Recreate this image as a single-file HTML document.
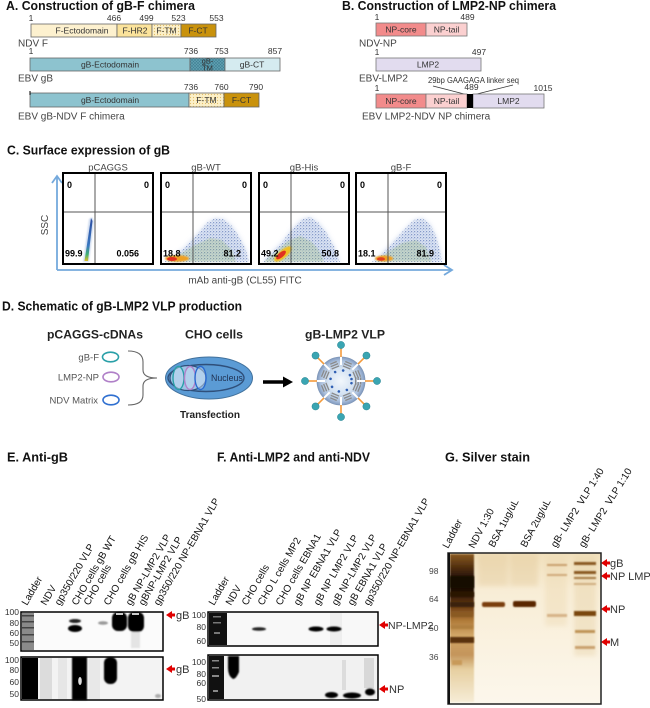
<!DOCTYPE html>
<html><head><meta charset="utf-8">
<style>
html,body{margin:0;padding:0;background:#fff;}
svg{display:block;}
text{font-family:"Liberation Sans",Arial,sans-serif;}
</style></head><body>
<svg width="650" height="708" viewBox="0 0 650 708" xmlns="http://www.w3.org/2000/svg">
<defs>
 <pattern id="ftm" width="3" height="3" patternUnits="userSpaceOnUse"><rect width="3" height="3" fill="#fcf0c8"/><circle cx="1.5" cy="1.5" r=".6" fill="#e2bd68"/></pattern>
 <pattern id="gtm" width="3" height="3" patternUnits="userSpaceOnUse"><rect width="3" height="3" fill="#62a2b3"/><path d="M0,0L3,3M3,0L0,3" stroke="#3f7f93" stroke-width=".6"/></pattern>
 <pattern id="dots" width="3" height="3" patternUnits="userSpaceOnUse"><circle cx=".7" cy=".7" r=".55" fill="#2a4c9c"/><circle cx="2.2" cy="1.9" r=".45" fill="#5a82c4"/></pattern>
 <pattern id="gdots" width="2.2" height="2.2" patternUnits="userSpaceOnUse"><circle cx=".6" cy=".6" r=".55" fill="#3c9a50"/><circle cx="1.6" cy="1.6" r=".45" fill="#b8c028"/></pattern>
 <linearGradient id="streak" x1="0" y1="1" x2="0" y2="0">
  <stop offset="0" stop-color="#e0c020"/><stop offset=".15" stop-color="#40b070"/><stop offset=".35" stop-color="#3a78c0"/><stop offset="1" stop-color="#2a4ca0"/>
 </linearGradient>
 <radialGradient id="sph" cx=".5" cy=".5" r=".5">
  <stop offset="0" stop-color="#f2f7fc"/><stop offset=".55" stop-color="#d4e2f2"/><stop offset=".85" stop-color="#a9bedb"/><stop offset="1" stop-color="#8099bf"/>
 </radialGradient>
 <linearGradient id="gelbg" x1="0" y1="0" x2="0" y2="1">
  <stop offset="0" stop-color="#f1e0bc"/><stop offset=".25" stop-color="#f8edd6"/><stop offset="1" stop-color="#fcf7ec"/>
 </linearGradient>
 <linearGradient id="ladG" x1="0" y1="0" x2="0" y2="1">
  <stop offset="0" stop-color="#8a5a22"/><stop offset=".1" stop-color="#4a2a0c"/><stop offset=".18" stop-color="#1a0c02"/><stop offset=".24" stop-color="#1a0c02"/><stop offset=".35" stop-color="#6a3a12"/><stop offset=".45" stop-color="#b07a38"/><stop offset=".55" stop-color="#d2a868"/><stop offset=".68" stop-color="#c4945a"/><stop offset=".78" stop-color="#e6cfa0"/><stop offset="1" stop-color="#f6ecd6"/>
 </linearGradient>
 <filter id="b1" x="-20%" y="-50%" width="140%" height="200%"><feGaussianBlur stdDeviation="0.7"/></filter>
 <filter id="b2" x="-30%" y="-50%" width="160%" height="200%"><feGaussianBlur stdDeviation="1.5"/></filter>
 <filter id="b3" x="-30%" y="-30%" width="160%" height="160%"><feGaussianBlur stdDeviation="2.5"/></filter>
</defs>

<!-- ============ PANEL A ============ -->
<text x="6" y="10" font-size="12.5" font-weight="bold" fill="#111" textLength="189" lengthAdjust="spacingAndGlyphs">A. Construction of gB-F chimera</text>
<g font-size="8.5" fill="#333" text-anchor="middle">
 <text x="31" y="21">1</text><text x="114" y="21">466</text><text x="146.5" y="21">499</text><text x="178.5" y="21">523</text><text x="216.5" y="21">553</text>
 <text x="31" y="54">1</text><text x="191" y="54">736</text><text x="221.5" y="54">753</text><text x="275" y="54">857</text>
 <text x="191" y="90">736</text><text x="221.5" y="90">760</text><text x="256" y="90">790</text>
</g>
<g stroke="#666" stroke-width=".8">
 <rect x="31" y="24" width="86" height="13" fill="#fdf1cf"/>
 <rect x="117" y="24" width="35" height="13" fill="#fbe39b"/>
 <rect x="152" y="24" width="29" height="13" fill="url(#ftm)"/>
 <rect x="181" y="24" width="35" height="13" fill="#c9920c"/>
 <rect x="30" y="58" width="160" height="13" fill="#8dc3cf"/>
 <rect x="190" y="58" width="35" height="13" fill="url(#gtm)"/>
 <rect x="225" y="58" width="55" height="13" fill="#d5ebf0"/>
 <rect x="30" y="93" width="159" height="14" fill="#8dc3cf"/>
 <rect x="189" y="93" width="35" height="14" fill="url(#ftm)"/>
 <rect x="224" y="93" width="35" height="14" fill="#c9920c"/>
</g>
<line x1="30" y1="91" x2="30" y2="95" stroke="#000" stroke-width="1"/>
<g font-size="8.5" fill="#333" text-anchor="middle">
 <text x="82" y="33.5">F-Ectodomain</text><text x="135" y="33.5">F-HR2</text><text x="166.5" y="33.5">F-TM</text><text x="198" y="33.5">F-CT</text>
 <text x="110" y="67.5">gB-Ectodomain</text><text x="252" y="67.5">gB-CT</text>
 <text x="207.5" y="63.5" font-size="7.5">gB-</text><text x="207.5" y="70.5" font-size="7.5">TM</text>
 <text x="110" y="103">gB-Ectodomain</text><text x="206.5" y="103">F-TM</text><text x="241.5" y="103">F-CT</text>
</g>
<g font-size="10" fill="#444">
 <text x="18" y="46.5">NDV F</text>
 <text x="18" y="81.5">EBV gB</text>
 <text x="18" y="119.5">EBV gB-NDV F chimera</text>
</g>

<!-- ============ PANEL B ============ -->
<text x="342" y="10" font-size="12.5" font-weight="bold" fill="#111" textLength="214" lengthAdjust="spacingAndGlyphs">B. Construction of LMP2-NP chimera</text>
<g font-size="8.5" fill="#333" text-anchor="middle">
 <text x="377" y="20">1</text><text x="467.5" y="20">489</text>
 <text x="377" y="55">1</text><text x="479" y="55">497</text>
 <text x="377" y="91">1</text><text x="471.5" y="90">489</text><text x="543" y="91">1015</text>
</g>
<text x="428" y="83" font-size="8.5" fill="#333" textLength="91" lengthAdjust="spacingAndGlyphs">29bp GAAGAGA linker seq</text>
<line x1="433" y1="86" x2="468" y2="95" stroke="#333" stroke-width=".8"/>
<line x1="513" y1="85" x2="473" y2="95" stroke="#333" stroke-width=".8"/>
<g stroke="#777" stroke-width=".8">
 <rect x="376" y="23" width="50" height="13" fill="#f28b8b"/>
 <rect x="426" y="23" width="41" height="13" fill="#fbd0d0"/>
 <rect x="376" y="58" width="105" height="13" fill="#e2dcef"/>
 <rect x="376" y="94" width="50" height="14" fill="#f28b8b"/>
 <rect x="426" y="94" width="41" height="14" fill="#fbd0d0"/>
 <rect x="473" y="94" width="71" height="14" fill="#e2dcef"/>
</g>
<rect x="467" y="94" width="6" height="14" fill="#000"/>
<g font-size="8.5" fill="#333" text-anchor="middle">
 <text x="401" y="32.5">NP-core</text><text x="446.5" y="32.5">NP-tail</text>
 <text x="428" y="67.5">LMP2</text>
 <text x="401" y="104">NP-core</text><text x="446.5" y="104">NP-tail</text><text x="508.5" y="104">LMP2</text>
</g>
<g font-size="10" fill="#444">
 <text x="359" y="46.5">NDV-NP</text>
 <text x="359" y="81.5">EBV-LMP2</text>
 <text x="362" y="119.5">EBV LMP2-NDV NP chimera</text>
</g>

<!-- ============ PANEL C ============ -->
<text x="7" y="154.5" font-size="13" font-weight="bold" fill="#111" textLength="163" lengthAdjust="spacingAndGlyphs">C. Surface expression of gB</text>
<g font-size="9.5" fill="#444" text-anchor="middle">
 <text x="108" y="170.5">pCAGGS</text><text x="206" y="170.5">gB-WT</text><text x="304" y="170.5">gB-His</text><text x="401" y="170.5">gB-F</text>
</g>
<g stroke="#74a9dc" stroke-width="1.8" fill="none">
 <line x1="57" y1="177" x2="57" y2="270"/>
 <line x1="57" y1="270" x2="452" y2="270"/>
 <polyline points="52,183 57,176 62,183"/>
 <polyline points="444,265 452,270 444,275"/>
</g>
<text transform="translate(48,225) rotate(-90)" font-size="10" fill="#444" text-anchor="middle">SSC</text>
<text x="245" y="283.5" font-size="10" fill="#444" text-anchor="middle">mAb anti-gB (CL55) FITC</text>

<g>
 <polygon points="83,262 89,262 94,221 92,217 89,219" fill="#9fb8e0" opacity=".5" filter="url(#b1)"/>
 <polygon points="84.5,261 88,261 92.5,221 91,218" fill="url(#streak)"/>

 <polygon points="164,262 172,257 185,247 198,233 208,222 215,218 224,219 232,226 240,238 246,250 249,262" fill="#b4c4e6" opacity=".5" filter="url(#b3)"/>
 <polygon points="164,262 172,257 185,247 198,233 208,222 215,218 224,219 232,226 240,238 246,250 249,262" fill="url(#dots)" opacity=".75"/>
 <polygon points="166,262 180,254 195,245 210,238 222,240 232,250 236,262" fill="url(#gdots)" opacity=".65" filter="url(#b1)"/>
 <ellipse cx="177" cy="258.5" rx="12" ry="3.2" fill="#f0a020" filter="url(#b1)"/>
 <ellipse cx="172" cy="259" rx="5" ry="2" fill="#e03020"/>

 <polygon points="262,262 270,254 282,242 293,228 302,219 310,217 318,222 326,232 334,246 340,262" fill="#b4c4e6" opacity=".5" filter="url(#b3)"/>
 <polygon points="262,262 270,254 282,242 293,228 302,219 310,217 318,222 326,232 334,246 340,262" fill="url(#dots)" opacity=".75"/>
 <polygon points="264,262 275,252 288,241 300,236 312,242 320,252 324,262" fill="url(#gdots)" opacity=".65" filter="url(#b1)"/>
 <ellipse cx="283" cy="254" rx="11" ry="4" transform="rotate(-40 283 254)" fill="#f0c020" filter="url(#b1)"/>
 <ellipse cx="281" cy="255" rx="6" ry="2.5" transform="rotate(-40 281 255)" fill="#e03020"/>

 <polygon points="372,262 380,255 392,243 404,230 414,220 422,218 430,224 436,236 440,250 442,262" fill="#b4c4e6" opacity=".5" filter="url(#b3)"/>
 <polygon points="372,262 380,255 392,243 404,230 414,220 422,218 430,224 436,236 440,250 442,262" fill="url(#dots)" opacity=".75"/>
 <polygon points="375,262 388,252 402,243 416,240 426,247 432,262" fill="url(#gdots)" opacity=".65" filter="url(#b1)"/>
 <ellipse cx="384" cy="258.5" rx="9" ry="3" fill="#f0a020" filter="url(#b1)"/>
 <ellipse cx="381" cy="259" rx="4" ry="1.8" fill="#e04020"/>
</g>
<g stroke="#555" stroke-width="1">
 <line x1="95" y1="173" x2="95" y2="264"/><line x1="63" y1="212" x2="153" y2="212"/>
 <line x1="193" y1="173" x2="193" y2="264"/><line x1="161" y1="212" x2="251" y2="212"/>
 <line x1="291" y1="173" x2="291" y2="264"/><line x1="259" y1="212" x2="349" y2="212"/>
 <line x1="388" y1="173" x2="388" y2="264"/><line x1="356" y1="212" x2="446" y2="212"/>
</g>
<g fill="none" stroke="#000" stroke-width="2">
 <rect x="63" y="173" width="90" height="91"/>
 <rect x="161" y="173" width="90" height="91"/>
 <rect x="259" y="173" width="90" height="91"/>
 <rect x="356" y="173" width="90" height="91"/>
</g>
<g font-size="9" font-weight="bold" fill="#000">
 <text x="67" y="188">0</text><text x="149" y="188" text-anchor="end">0</text>
 <text x="165" y="188">0</text><text x="247" y="188" text-anchor="end">0</text>
 <text x="263" y="188">0</text><text x="345" y="188" text-anchor="end">0</text>
 <text x="360" y="188">0</text><text x="442" y="188" text-anchor="end">0</text>
 <text x="65" y="256.5">99.9</text><text x="139" y="256.5" text-anchor="end">0.056</text>
 <text x="163" y="256.5">18.8</text><text x="241" y="256.5" text-anchor="end">81.2</text>
 <text x="261" y="256.5">49.2</text><text x="339" y="256.5" text-anchor="end">50.8</text>
 <text x="358" y="256.5">18.1</text><text x="434" y="256.5" text-anchor="end">81.9</text>
</g>

<!-- ============ PANEL D ============ -->
<text x="2" y="310.5" font-size="12.5" font-weight="bold" fill="#111" textLength="240" lengthAdjust="spacingAndGlyphs">D. Schematic of gB-LMP2 VLP production</text>
<g font-size="12.3" font-weight="bold" fill="#222">
 <text x="47" y="338.5" textLength="96" lengthAdjust="spacingAndGlyphs">pCAGGS-cDNAs</text>
 <text x="185" y="338.5" textLength="58" lengthAdjust="spacingAndGlyphs">CHO cells</text>
 <text x="305" y="338.5" textLength="80" lengthAdjust="spacingAndGlyphs">gB-LMP2 VLP</text>
</g>
<g font-size="9.5" fill="#555" text-anchor="end">
 <text x="99" y="360.5">gB-F</text>
 <text x="99" y="380.5">LMP2-NP</text>
 <text x="98" y="403.5">NDV Matrix</text>
</g>
<g fill="none" stroke-width="1.6">
 <ellipse cx="110.5" cy="357" rx="8" ry="4.8" stroke="#2aa0a8"/>
 <ellipse cx="111" cy="377" rx="8" ry="4.8" stroke="#b080c8"/>
 <ellipse cx="111" cy="400" rx="8" ry="4.8" stroke="#3070d0"/>
</g>
<path d="M128,351 Q143,351 143,362 L143,370 Q143,378 157,378 Q143,378 143,386 L143,395 Q143,405 128,405" fill="none" stroke="#666" stroke-width="1.1"/>
<ellipse cx="209" cy="378" rx="43.5" ry="21" fill="#5b9bd5" stroke="#41719c" stroke-width="1"/>
<ellipse cx="206" cy="378" rx="38" ry="13.5" fill="#5b9bd5" stroke="#2f4f7a" stroke-width="1.4"/>
<ellipse cx="188" cy="378" rx="18" ry="12.5" fill="#9dc3e6" stroke="#2f4f7a" stroke-width="1.2"/>
<g fill="#c8def2" fill-opacity=".5" stroke-width="1.4">
 <ellipse cx="178.5" cy="378" rx="5.5" ry="11.5" stroke="#2aa0a8"/>
 <ellipse cx="190" cy="378" rx="5.5" ry="11.5" stroke="#b080c8"/>
 <ellipse cx="200.5" cy="378" rx="5.5" ry="11.5" stroke="#2a6ad0"/>
</g>
<text x="211" y="381" font-size="8.8" fill="#1f3050">Nucleus</text>
<text x="180" y="418" font-size="10" font-weight="bold" fill="#222" textLength="60" lengthAdjust="spacingAndGlyphs">Transfection</text>
<line x1="263" y1="382" x2="285" y2="382" stroke="#000" stroke-width="3.5"/>
<polygon points="283,376.5 293,382 283,387.5" fill="#000"/>
<g>
 <circle cx="341" cy="381" r="24" fill="url(#sph)" stroke="#7f97b8" stroke-width=".8"/>
 <g id="patch">
  <rect x="355" y="377" width="1.3" height="8" fill="#8a8a8a"/>
  <rect x="357.5" y="377" width="1.3" height="8" fill="#8a8a8a"/>
  <rect x="360" y="377.5" width="1.3" height="7" fill="#8a8a8a"/>
  <circle cx="351.5" cy="379" r="1.3" fill="#2f5fb3"/>
 </g>
 <g transform="rotate(22.5 341 381)"><use href="#patch"/></g>
 <g transform="rotate(67.5 341 381)"><use href="#patch"/></g>
 <g transform="rotate(112.5 341 381)"><use href="#patch"/></g>
 <g transform="rotate(157.5 341 381)"><use href="#patch"/></g>
 <g transform="rotate(202.5 341 381)"><use href="#patch"/></g>
 <g transform="rotate(247.5 341 381)"><use href="#patch"/></g>
 <g transform="rotate(292.5 341 381)"><use href="#patch"/></g>
 <g transform="rotate(337.5 341 381)"><use href="#patch"/></g>
 <g id="spike">
  <line x1="357" y1="381" x2="365" y2="381" stroke="#fff" stroke-width="2"/>
  <line x1="365" y1="381" x2="374" y2="381" stroke="#f39a3c" stroke-width="1.6"/>
  <circle cx="377" cy="381" r="3.6" fill="#3aa5b2" stroke="#2a8593" stroke-width=".5"/>
 </g>
 <g transform="rotate(45 341 381)"><use href="#spike"/></g>
 <g transform="rotate(90 341 381)"><use href="#spike"/></g>
 <g transform="rotate(135 341 381)"><use href="#spike"/></g>
 <g transform="rotate(180 341 381)"><use href="#spike"/></g>
 <g transform="rotate(225 341 381)"><use href="#spike"/></g>
 <g transform="rotate(270 341 381)"><use href="#spike"/></g>
 <g transform="rotate(315 341 381)"><use href="#spike"/></g>
</g>

<!-- ============ PANEL E/F/G TITLES ============ -->
<g font-size="12.5" font-weight="bold" fill="#111">
 <text x="7" y="461.5" textLength="61" lengthAdjust="spacingAndGlyphs">E. Anti-gB</text>
 <text x="217" y="461.5" textLength="153" lengthAdjust="spacingAndGlyphs">F. Anti-LMP2 and anti-NDV</text>
 <text x="445" y="461.5" textLength="85" lengthAdjust="spacingAndGlyphs">G. Silver stain</text>
</g>

<g font-size="10" fill="#111">
 <text transform="translate(27,606) rotate(-60)">Ladder</text>
 <text transform="translate(46,606) rotate(-60)">NDV</text>
 <text transform="translate(60,606) rotate(-60)">gp350/220 VLP</text>
 <text transform="translate(77,606) rotate(-60)">CHO cells gB WT</text>
 <text transform="translate(89,606) rotate(-60)">CHO cells</text>
 <text transform="translate(109,606) rotate(-60)">CHO cells gB HIS</text>
 <text transform="translate(131,606) rotate(-60)">gB NP-LMP2 VLP</text>
 <text transform="translate(144,606) rotate(-60)">gBNP-LMP2 VLP</text>
 <text transform="translate(159,606) rotate(-60)">gp350/220 NP-EBNA1 VLP</text>
</g>
<g font-size="10" fill="#111">
 <text transform="translate(214,606) rotate(-60)">Ladder</text>
 <text transform="translate(231,606) rotate(-60)">NDV</text>
 <text transform="translate(247,606) rotate(-60)">CHO cells</text>
 <text transform="translate(263,606) rotate(-60)">CHO L cells MP2</text>
 <text transform="translate(281,606) rotate(-60)">CHO cells EBNA1</text>
 <text transform="translate(299,606) rotate(-60)">gB NP EBNA1 VLP</text>
 <text transform="translate(319,606) rotate(-60)">gB NP LMP2 VLP</text>
 <text transform="translate(337,606) rotate(-60)">gB NP-LMP2 VLP</text>
 <text transform="translate(353,606) rotate(-60)">gB EBNA1 VLP</text>
 <text transform="translate(369,606) rotate(-60)">gp350/220 NP-EBNA1 VLP</text>
</g>
<g font-size="10" fill="#111">
 <text transform="translate(448,549) rotate(-62)">Ladder</text>
 <text transform="translate(474,549) rotate(-62)">NDV 1:30</text>
 <text transform="translate(494,548) rotate(-62)">BSA 1ug/uL</text>
 <text transform="translate(526,548) rotate(-62)">BSA 2ug/uL</text>
 <text transform="translate(556,548) rotate(-58)" xml:space="preserve">gB- LMP2  VLP 1:40</text>
 <text transform="translate(584,548) rotate(-58)" xml:space="preserve">gB- LMP2  VLP 1:10</text>
</g>

<!-- ============ E BLOTS ============ -->
<g font-size="8.5" fill="#333" text-anchor="end">
 <text x="19" y="615">100</text><text x="19" y="626">80</text><text x="19" y="636">60</text><text x="19" y="646">50</text>
 <text x="19" y="663">100</text><text x="19" y="673">80</text><text x="19" y="685">60</text><text x="19" y="697">50</text>
</g>
<rect x="21" y="612" width="142" height="39" fill="#fbfbfb"/>
<rect x="22" y="613" width="12" height="37" fill="#8a8a8a"/>
<g fill="#444"><rect x="22" y="615" width="12" height="1.5"/><rect x="22" y="621" width="12" height="1.5"/><rect x="22" y="627" width="12" height="1.5"/><rect x="22" y="634" width="12" height="1.5"/><rect x="22" y="641" width="12" height="1.5"/></g>
<g filter="url(#b1)">
 <ellipse cx="75" cy="621" rx="6" ry="2" fill="#222"/>
 <ellipse cx="75" cy="628.5" rx="7" ry="3.5" fill="#000"/>
 <ellipse cx="103" cy="623" rx="5" ry="1.8" fill="#999"/>
 <rect x="112" y="612" width="15" height="19" rx="6" fill="#000"/>
 <rect x="128" y="612" width="16" height="20" rx="6" fill="#000"/>
 <rect x="131" y="632" width="9" height="16" fill="#e4e4e4"/>
</g>
<rect x="116" y="613" width="7" height="2" fill="#ccc"/>
<rect x="132" y="613" width="7" height="2" fill="#ccc"/>
<rect x="21" y="612" width="142" height="39" fill="none" stroke="#000" stroke-width="1.5"/>

<rect x="21" y="657" width="142" height="43" fill="#f3f3f3"/>
<rect x="40" y="658" width="12" height="41" fill="#dcdcdc"/>
<rect x="58" y="658" width="9" height="41" fill="#e6e6e6"/>
<rect x="89" y="658" width="11" height="41" fill="#e8e8e8"/>
<rect x="22" y="658" width="16" height="41" fill="#000"/>
<g filter="url(#b1)">
 <rect x="72" y="657" width="15" height="43" fill="#000"/>
 <rect x="104" y="657" width="13" height="27" rx="6" fill="#000"/>
 <ellipse cx="158" cy="696" rx="3" ry="2" fill="#aaa"/>
</g>
<ellipse cx="80" cy="681" rx="1.8" ry="4" fill="#ddd"/>
<rect x="21" y="657" width="142" height="43" fill="none" stroke="#000" stroke-width="1.5"/>

<g fill="#e00000">
 <polygon points="166,615 172,611 172,613.5 175,613.5 175,616.5 172,616.5 172,619"/>
 <polygon points="166,669 172,665 172,667.5 175,667.5 175,670.5 172,670.5 172,673"/>
 <polygon points="379,625 385,621 385,623.5 388,623.5 388,626.5 385,626.5 385,629"/>
 <polygon points="379,689 385,685 385,687.5 388,687.5 388,690.5 385,690.5 385,693"/>
 <polygon points="601,563 607,559 607,561.5 610,561.5 610,564.5 607,564.5 607,567"/>
 <polygon points="601,576 607,572 607,574.5 610,574.5 610,577.5 607,577.5 607,580"/>
 <polygon points="601,609 607,605 607,607.5 610,607.5 610,610.5 607,610.5 607,613"/>
 <polygon points="601,642 607,638 607,640.5 610,640.5 610,643.5 607,643.5 607,646"/>
</g>
<g font-size="11" fill="#333">
 <text x="176" y="619">gB</text>
 <text x="176" y="673">gB</text>
 <text x="388" y="629" font-size="10.5">NP-LMP2</text>
 <text x="389" y="693">NP</text>
 <text x="610" y="567">gB</text>
 <text x="610" y="580">NP LMP2</text>
 <text x="610" y="613">NP</text>
 <text x="610" y="646">M</text>
</g>

<!-- ============ F BLOTS ============ -->
<g font-size="8.5" fill="#333" text-anchor="end">
 <text x="206" y="618">100</text><text x="206" y="630">80</text><text x="206" y="644">60</text>
 <text x="206" y="665">100</text><text x="206" y="677">80</text><text x="206" y="686">60</text><text x="206" y="702">50</text>
</g>
<rect x="208" y="612" width="170" height="34" fill="#f8f8f8"/>
<rect x="209" y="613" width="18" height="32" fill="#111"/>
<g fill="#777"><rect x="213" y="616" width="8" height="1.5"/><rect x="213" y="622" width="8" height="1.5"/><rect x="214" y="632" width="6" height="2"/></g>
<rect x="330" y="613" width="12" height="32" fill="#eeeeee"/>
<g filter="url(#b1)">
 <ellipse cx="259" cy="629" rx="7" ry="1.8" fill="#222"/>
 <ellipse cx="316" cy="629" rx="7.5" ry="2.5" fill="#000"/>
 <ellipse cx="334" cy="629" rx="7.5" ry="2.5" fill="#000"/>
</g>
<rect x="208" y="612" width="170" height="34" fill="none" stroke="#000" stroke-width="1.5"/>

<rect x="208" y="655" width="170" height="45" fill="#f1f1f1"/>
<rect x="209" y="656" width="15" height="43" fill="#111"/>
<g fill="#888"><rect x="212" y="660" width="7" height="1.5"/><rect x="212" y="667" width="7" height="1.5"/><rect x="212" y="675" width="7" height="2"/><rect x="213" y="690" width="5" height="2"/></g>
<rect x="342" y="660" width="4" height="30" fill="#dcdcdc"/>
<rect x="364" y="658" width="10" height="30" fill="#d8d8d8"/>
<g filter="url(#b1)">
 <path d="M228,656 L239,656 L239,672 Q236,679 233,679 Q228,676 228,668 Z" fill="#000"/>
 <ellipse cx="331.5" cy="695" rx="6.5" ry="3" fill="#000"/>
 <ellipse cx="352" cy="695.5" rx="9" ry="3" fill="#000"/>
 <ellipse cx="370" cy="692" rx="5" ry="3.5" fill="#000"/>
</g>
<rect x="208" y="655" width="170" height="45" fill="none" stroke="#000" stroke-width="1.5"/>

<!-- ============ G GEL ============ -->
<g font-size="8.5" fill="#444">
 <text x="429" y="574">98</text><text x="429" y="602">64</text><text x="429" y="631">50</text><text x="429" y="660">36</text>
</g>
<rect x="448" y="553" width="153" height="151" fill="url(#gelbg)"/>
<g filter="url(#b3)" opacity=".4">
 <rect x="478" y="554" width="30" height="32" fill="#e2c898"/>
 <rect x="510" y="554" width="28" height="32" fill="#e2c898"/>
 <rect x="545" y="556" width="22" height="70" fill="#ecd8b0"/>
 <rect x="574" y="556" width="22" height="100" fill="#e6d0a4"/>
</g>
<rect x="450" y="554" width="24" height="148" fill="url(#ladG)" filter="url(#b1)"/>
<g filter="url(#b1)">
 <rect x="450" y="576" width="24" height="12" fill="#120800"/>
 <rect x="450" y="592" width="24" height="5" fill="#2a1404"/>
 <rect x="450" y="602" width="24" height="5" fill="#3a2008"/>
 <rect x="451" y="612" width="22" height="5" fill="#8a5a24"/>
 <rect x="451" y="625" width="22" height="4" fill="#b08040"/>
 <rect x="450" y="637" width="24" height="6" fill="#5a3008"/>
 <rect x="452" y="660" width="10" height="5" fill="#c89a5a"/>
 <rect x="482" y="602" width="23" height="5" rx="2" fill="#7a3e0a"/>
 <rect x="513" y="601" width="23" height="6" rx="2" fill="#5a2806"/>
 <rect x="547" y="564" width="20" height="2" fill="#caa070"/>
 <rect x="547" y="574" width="20" height="2" fill="#d0aa7a"/>
 <rect x="547" y="614" width="20" height="3" fill="#d6b488"/>
 <rect x="574" y="562" width="22" height="3" fill="#8a5a24"/>
 <rect x="574" y="571" width="22" height="3" fill="#8a5a24"/>
 <rect x="574" y="577" width="22" height="2" fill="#a67a44"/>
 <rect x="574" y="583" width="22" height="2" fill="#d0ae80"/>
 <rect x="574" y="611" width="22" height="5" fill="#7a4610"/>
 <rect x="575" y="630" width="20" height="3" fill="#c09458"/>
 <rect x="575" y="646" width="20" height="3" fill="#caa270"/>
</g>
<rect x="448" y="553" width="153" height="151" fill="none" stroke="#222" stroke-width="1.5"/>
<line x1="449" y1="553" x2="449" y2="704" stroke="#111" stroke-width="2"/>
</svg>
</body></html>
